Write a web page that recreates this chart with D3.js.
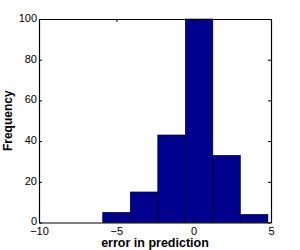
<!DOCTYPE html>
<html>
<head>
<meta charset="utf-8">
<script src="https://cdn.jsdelivr.net/npm/d3@7"></script>
<style>
body { margin: 0; background: #fff; }
svg { display: block; }
</style>
</head>
<body>
<svg id="chart" width="300" height="250"></svg>
<script>
const binEdges = [-5.88, -4.10, -2.32, -0.54, 1.24, 3.02, 4.80];
const counts = [5, 15, 43, 100, 33, 4];
const xTicks = [-10, -5, 0, 5];
const yTicks = [0, 20, 40, 60, 80, 100];
const xLabel = "error in prediction";
const yLabel = "Frequency";

const W = 300, H = 250;
const m = { left: 39, right: 29, top: 19, bottom: 27.5 };
const svg = d3.select("#chart");
const font = "'Liberation Sans', Arial, Helvetica, sans-serif";

const x = d3.scaleLinear().domain([-10, 5]).range([m.left, W - m.right]);
const y = d3.scaleLinear().domain([0, 100]).range([H - m.bottom, m.top]);

const bins = counts.map((c, i) => ({ x0: binEdges[i], x1: binEdges[i + 1], c }));

svg.append("g").selectAll("rect").data(bins).join("rect")
  .attr("x", d => x(d.x0))
  .attr("width", d => x(d.x1) - x(d.x0))
  .attr("y", d => y(Math.min(d.c, 100)))
  .attr("height", d => y(0) - y(Math.min(d.c, 100)))
  .attr("fill", "#00008F")
  .attr("stroke", "#000")
  .attr("stroke-width", 0.6);

const fmt = d => (d < 0 ? "\u2212" + Math.abs(d) : String(d));
const tl = 3;

// bottom axis
const xb = svg.append("g").attr("transform", `translate(0,${y(0)})`)
  .call(d3.axisBottom(x).tickValues(xTicks).tickSize(-tl).tickSizeOuter(0).tickPadding(5).tickFormat(fmt));
// top axis
const xt = svg.append("g").attr("transform", `translate(0,${y(100)})`)
  .call(d3.axisTop(x).tickValues(xTicks).tickSize(-tl).tickSizeOuter(0).tickFormat(""));
// left axis
const yl = svg.append("g").attr("transform", `translate(${x(-10)},0)`)
  .call(d3.axisLeft(y).tickValues(yTicks).tickSize(-tl).tickSizeOuter(0).tickPadding(2).tickFormat(fmt));
// right axis
const yr = svg.append("g").attr("transform", `translate(${x(5)},0)`)
  .call(d3.axisRight(y).tickValues(yTicks).tickSize(-tl).tickSizeOuter(0).tickFormat(""));

[xb, xt, yl, yr].forEach(g => {
  g.selectAll(".domain").attr("stroke", "#000").attr("stroke-width", 1.2);
  g.selectAll(".tick line").attr("stroke", "#000").attr("stroke-width", 1);
  g.selectAll("text").attr("font-family", font).attr("font-size", "11px").attr("fill", "#000");
});
xb.selectAll(".tick text").attr("dy", "0.71em");
yl.selectAll(".tick text").attr("dy", "0.22em");

svg.append("text")
  .attr("x", (x(-10) + x(5)) / 2)
  .attr("y", 247)
  .attr("text-anchor", "middle")
  .attr("font-family", font)
  .attr("font-weight", "bold")
  .attr("font-size", "12.5px")
  .text(xLabel);

svg.append("text")
  .attr("transform", `translate(12,${(y(0) + y(100)) / 2}) rotate(-90)`)
  .attr("text-anchor", "middle")
  .attr("font-family", font)
  .attr("font-weight", "bold")
  .attr("font-size", "12px")
  .text(yLabel);
</script>
</body>
</html>
